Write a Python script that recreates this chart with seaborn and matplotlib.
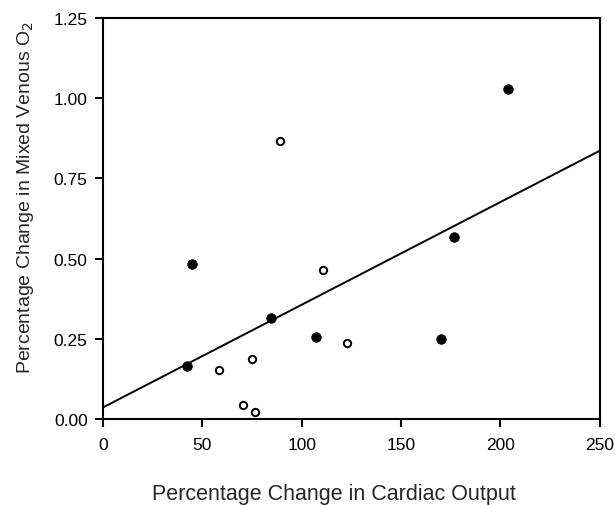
import matplotlib
matplotlib.use("Agg")
import matplotlib.pyplot as plt
import seaborn as sns
import pandas as pd

# Data
filled_x = [42.5, 45, 84.7, 107, 170, 176.5, 204]
filled_y = [0.164, 0.482, 0.315, 0.254, 0.248, 0.566, 1.028]
open_x = [89.2, 58.4, 74.8, 70.5, 76.5, 110.7, 123]
open_y = [0.867, 0.154, 0.187, 0.043, 0.021, 0.465, 0.237]
line_x = [0, 250]
line_y = [0.036, 0.836]
x_ticks = [0, 50, 100, 150, 200, 250]
y_ticks = [0.00, 0.25, 0.50, 0.75, 1.00, 1.25]

sns.set_theme(style="ticks")
plt.rcParams['font.family'] = ['Liberation Sans', 'DejaVu Sans']

fig = plt.figure(figsize=(6.15, 5.06), dpi=100)
ax = fig.add_axes([0.1675, 0.17, 0.8075, 0.7925])

df_f = pd.DataFrame({"x": filled_x, "y": filled_y})
df_o = pd.DataFrame({"x": open_x, "y": open_y})
df_l = pd.DataFrame({"x": line_x, "y": line_y})

sns.lineplot(data=df_l, x="x", y="y", ax=ax, color="black", linewidth=1.4)
sns.scatterplot(data=df_f, x="x", y="y", ax=ax, s=48, color="black",
                edgecolor="black", linewidth=0.5, zorder=3)
sns.scatterplot(data=df_o, x="x", y="y", ax=ax, s=28, facecolor="white",
                edgecolor="black", linewidth=1.4, zorder=3)

ax.set_xlim(0, 250)
ax.set_ylim(0, 1.25)
ax.set_xticks(x_ticks)
ax.set_yticks(y_ticks)
ax.set_xticklabels([str(v) for v in x_ticks])
ax.set_yticklabels([f"{v:.2f}" for v in y_ticks])

for s in ax.spines.values():
    s.set_visible(True)
    s.set_linewidth(1.5)
    s.set_color("black")
ax.tick_params(axis="both", direction="out", length=6, width=1.5,
               labelsize=12.5, colors="black", pad=5)
ax.tick_params(axis="x", pad=7)

ax.set_xlabel("Percentage Change in Cardiac Output", fontsize=15.5)
ax.set_ylabel("Percentage Change in Mixed Venous O$_2$", fontsize=14)
ax.xaxis.set_label_coords(0.465, -0.16)
ax.yaxis.set_label_coords(-0.135, 0.556)

fig.savefig("out.png", dpi=100)
